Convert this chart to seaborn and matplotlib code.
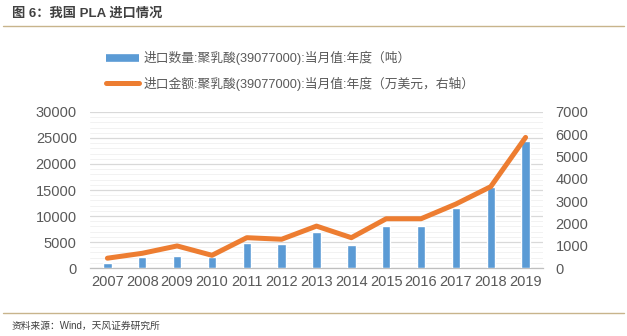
import numpy as np
import pandas as pd
import matplotlib
matplotlib.use("Agg")
import matplotlib.pyplot as plt
from matplotlib.lines import Line2D
import seaborn as sns

years = ["2007", "2008", "2009", "2010", "2011", "2012", "2013",
         "2014", "2015", "2016", "2017", "2018", "2019"]
qty_tons = [1000, 2200, 2400, 2100, 4900, 4700, 7000,
            4500, 8000, 8100, 11600, 15500, 24500]
amount_10k_usd = [440, 660, 990, 570, 1360, 1290, 1880,
                  1360, 2210, 2210, 2870, 3650, 5860]
left_ticks = [0, 5000, 10000, 15000, 20000, 25000, 30000]
right_ticks = [0, 1000, 2000, 3000, 4000, 5000, 6000, 7000]
label_qty = "进口数量:聚乳酸(39077000):当月值:年度（吨）"
label_amt = "进口金额:聚乳酸(39077000):当月值:年度（万美元，右轴）"
title = "图 6：我国 PLA 进口情况"
source = "资料来源：Wind，天风证券研究所"

sns.set_theme(style="white")
plt.rcParams["font.family"] = ["Liberation Sans", "Noto Sans CJK SC", "DejaVu Sans"]

BLUE = "#5B9BD5"
ORANGE = "#ED7D31"
TICK = "#595959"
GRID = "#D9D9D9"
TAN = "#C8B48C"

W, H = 627, 336
fig = plt.figure(figsize=(W / 100, H / 100), dpi=100)
fig.patch.set_facecolor("white")

def fx(px):
    return px / W

def fy(py):
    return 1 - py / H

ax = fig.add_axes([fx(90), fy(268), fx(543) - fx(90), fy(112) - fy(268)])
df = pd.DataFrame({"year": years, "qty": qty_tons, "amt": amount_10k_usd})
sns.barplot(data=df, x="year", y="qty", ax=ax, color=BLUE, width=0.24,
            saturation=1, zorder=3)
ax.set_ylim(0, 30000)
ax.set_xlim(-0.5, len(years) - 0.5)
ax.set_yticks(left_ticks)
ax.set_yticklabels([str(t) for t in left_ticks])
ax.yaxis.set_minor_locator(matplotlib.ticker.MultipleLocator(1000))
ax.grid(axis="y", which="major", color=GRID, linewidth=0.9, zorder=0)
ax.grid(axis="y", which="minor", color="#F0F0F0", linewidth=0.6, zorder=0)
ax.set_axisbelow(True)
ax.set_xlabel("")
ax.set_ylabel("")
for s in ["top", "right", "left"]:
    ax.spines[s].set_visible(False)
ax.spines["bottom"].set_color("#BFBFBF")
ax.spines["bottom"].set_linewidth(0.9)
ax.tick_params(axis="y", length=0, labelsize=10.5, labelcolor=TICK, pad=9.5)
ax.tick_params(axis="y", which="minor", length=0)
ax.tick_params(axis="x", length=0, labelsize=10.5, labelcolor=TICK, pad=5)
ax.set_xticks(np.arange(-0.5, len(years), 1.0), minor=True)
ax.tick_params(axis="x", which="minor", length=4, color="#BFBFBF", width=0.9,
               direction="out")

ax2 = ax.twinx()
sns.lineplot(x=np.arange(len(years)), y=df["amt"], ax=ax2, color=ORANGE,
             linewidth=3.6, zorder=4, solid_joinstyle="round")
ax2.set_ylim(0, 7000)
ax2.set_yticks(right_ticks)
ax2.set_yticklabels([str(t) for t in right_ticks])
ax2.set_ylabel("")
for s in ["top", "right", "left", "bottom"]:
    ax2.spines[s].set_visible(False)
ax2.tick_params(axis="y", length=0, labelsize=10.5, labelcolor=TICK, pad=9)
ax2.set_xlim(-0.5, len(years) - 0.5)

handles = [Line2D([0], [0], color=BLUE, linewidth=5.5, solid_capstyle="butt"),
           Line2D([0], [0], color=ORANGE, linewidth=3.6, solid_capstyle="round")]
fig.legend(handles, [label_qty, label_amt], loc="upper left",
           bbox_to_anchor=(fx(106), fy(51)), frameon=False, fontsize=9.2,
           handlelength=2.6, handletextpad=0.35, labelspacing=0.9,
           labelcolor=TICK, borderaxespad=0, borderpad=0)

fig.text(fx(12), fy(14), title, fontsize=9.5, fontweight="bold",
         color="#404040", va="center", ha="left")
fig.add_artist(Line2D([fx(3), fx(624)], [fy(26), fy(26)], color=TAN, linewidth=1.0))
fig.add_artist(Line2D([fx(3), fx(624)], [fy(313), fy(313)], color=TAN, linewidth=1.0))
fig.text(fx(12), fy(326), source, fontsize=7.0, color="#404040",
         va="center", ha="left")

fig.savefig("out.png", dpi=100, facecolor="white")
